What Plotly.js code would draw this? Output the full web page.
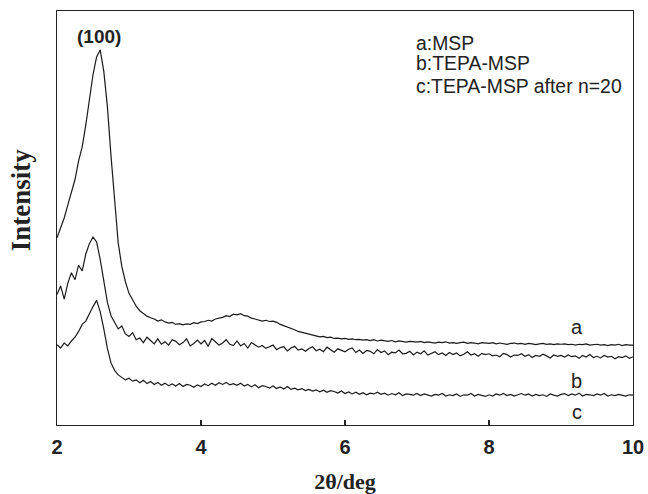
<!DOCTYPE html>
<html>
<head>
<meta charset="utf-8">
<script src="https://cdn.plot.ly/plotly-3.0.1.min.js"></script>
<style>body{margin:0;padding:0;background:#fff;}#chart{width:648px;height:494px;}</style>
</head>
<body>
<div id="chart"></div>
<script>
const twoTheta = [
2.00,2.05,2.10,2.15,2.20,2.25,2.30,2.35,2.40,2.45,
2.50,2.55,2.60,2.65,2.70,2.75,2.80,2.85,2.90,2.95,
3.00,3.05,3.10,3.15,3.20,3.25,3.30,3.35,3.40,3.45,
3.50,3.55,3.60,3.65,3.70,3.75,3.80,3.85,3.90,3.95,
4.00,4.05,4.10,4.15,4.20,4.25,4.30,4.35,4.40,4.45,
4.50,4.55,4.60,4.65,4.70,4.75,4.80,4.85,4.90,4.95,
5.00,5.05,5.10,5.15,5.20,5.25,5.30,5.35,5.40,5.45,
5.50,5.55,5.60,5.65,5.70,5.75,5.80,5.85,5.90,5.95,
6.00,6.05,6.10,6.15,6.20,6.25,6.30,6.35,6.40,6.45,
6.50,6.55,6.60,6.65,6.70,6.75,6.80,6.85,6.90,6.95,
7.00,7.05,7.10,7.15,7.20,7.25,7.30,7.35,7.40,7.45,
7.50,7.55,7.60,7.65,7.70,7.75,7.80,7.85,7.90,7.95,
8.00,8.05,8.10,8.15,8.20,8.25,8.30,8.35,8.40,8.45,
8.50,8.55,8.60,8.65,8.70,8.75,8.80,8.85,8.90,8.95,
9.00,9.05,9.10,9.15,9.20,9.25,9.30,9.35,9.40,9.45,
9.50,9.55,9.60,9.65,9.70,9.75,9.80,9.85,9.90,9.95,
10.00];

const intensityA = [
45.2,47.6,50.0,53.1,56.0,59.3,63.8,67.2,72.5,79.2,
84.6,88.9,90.6,85.4,76.9,65.0,53.6,44.0,38.3,34.6,
31.8,30.1,28.7,27.6,26.9,26.3,25.9,25.6,25.1,25.4,
24.9,24.6,24.8,24.3,24.5,24.2,24.4,24.3,24.7,24.5,
24.9,25.0,25.3,25.1,25.6,25.8,26.0,26.4,26.2,26.8,
26.6,26.9,26.4,26.3,25.8,25.6,25.4,25.1,25.3,25.0,
25.1,24.8,24.3,24.0,23.7,23.3,23.0,22.6,22.4,22.1,
22.0,21.7,21.6,21.3,21.4,21.1,21.2,20.9,21.0,20.8,
20.9,20.7,20.8,20.6,20.7,20.5,20.6,20.4,20.6,20.3,
20.5,20.3,20.2,20.4,20.1,20.3,20.2,20.0,20.2,20.1,
20.0,20.2,19.9,20.1,20.0,19.8,20.0,19.9,20.1,19.8,
19.9,19.7,19.9,20.0,19.7,19.9,19.8,19.6,19.9,19.8,
19.7,19.9,19.6,19.8,19.7,19.5,19.7,19.8,19.6,19.7,
19.5,19.7,19.6,19.4,19.6,19.7,19.5,19.6,19.4,19.6,
19.5,19.6,19.4,19.5,19.3,19.5,19.4,19.6,19.3,19.4,
19.5,19.3,19.4,19.2,19.4,19.3,19.5,19.2,19.4,19.3,
19.3];

const intensityB = [
31.5,33.6,30.4,34.2,36.8,35.1,38.6,37.2,41.3,43.8,
45.4,44.2,40.0,34.5,29.6,26.4,24.8,23.2,23.9,22.0,
21.4,22.3,20.6,21.0,19.9,21.2,20.4,19.6,20.8,19.5,
20.1,19.3,20.6,20.2,19.4,19.9,20.8,19.1,19.7,20.5,
19.6,20.4,19.0,20.9,20.1,19.3,19.8,20.6,19.5,19.2,
20.3,19.1,19.7,18.6,19.9,19.4,18.8,19.2,18.5,18.9,
19.3,18.2,18.7,18.9,17.9,18.6,19.0,18.1,18.4,17.8,
18.5,18.9,17.9,18.3,17.7,18.8,18.1,17.6,18.4,18.0,
17.7,18.3,18.6,17.5,18.1,17.3,18.0,17.8,17.2,18.2,
17.5,17.9,17.0,17.6,17.4,18.1,17.2,17.3,17.8,16.9,
17.6,17.2,17.9,16.9,17.3,17.7,17.0,17.4,16.8,17.5,
17.0,17.4,16.7,17.1,17.7,16.9,17.2,16.6,17.3,17.0,
17.2,16.7,16.9,16.5,17.3,17.0,16.4,16.9,16.8,17.2,
16.6,17.0,16.3,16.8,16.6,17.1,16.7,16.2,16.9,16.6,
16.8,16.4,16.9,16.5,16.7,16.1,16.8,16.4,17.0,16.3,
16.6,16.2,16.8,16.4,16.6,16.0,16.5,16.3,16.7,16.1,
16.5];

const intensityC = [
19.4,18.6,19.8,19.1,20.3,21.2,22.6,24.3,25.1,27.0,
28.6,30.1,27.4,23.2,18.5,15.0,13.2,12.1,11.6,10.9,
11.3,10.6,10.9,10.2,10.8,10.0,10.5,9.8,10.3,9.6,
10.1,9.5,9.9,9.4,10.0,9.3,9.8,9.6,9.1,9.7,
9.3,9.9,9.5,10.1,9.6,10.2,9.8,10.3,9.7,10.0,
9.6,10.1,9.4,9.8,9.2,9.7,9.0,9.5,9.3,8.9,
9.4,8.8,9.2,8.7,9.3,8.6,8.9,8.5,8.8,8.3,
8.6,8.2,8.5,8.0,8.4,7.9,8.3,8.1,7.7,8.2,
7.6,8.0,7.5,7.9,7.4,7.8,7.3,7.7,7.5,7.9,
7.4,7.7,7.2,7.6,7.3,7.8,7.1,7.5,7.4,7.2,
7.6,7.1,7.5,7.3,7.0,7.4,7.2,7.6,7.0,7.3,
7.1,7.5,6.9,7.3,7.2,7.6,7.0,7.4,7.1,6.9,
7.3,7.0,7.5,7.2,7.6,7.1,7.4,7.0,7.3,7.6,
7.2,7.5,7.0,7.4,7.1,7.3,6.9,7.5,7.2,7.0,
7.4,7.6,7.1,7.5,7.2,7.7,7.0,7.4,7.3,7.1,
7.5,7.2,7.6,7.0,7.3,7.1,7.4,7.2,7.0,7.3,
7.2];

const seriesNames = ['a', 'b', 'c'];
const legendLines = ['a:MSP', 'b:TEPA-MSP', 'c:TEPA-MSP after n=20'];
const xTicks = [2, 4, 6, 8, 10];
const xTickLabels = ['2', '4', '6', '8', '10'];
const peakLabel = '(100)';
const xTitle = '2θ/deg';
const yTitle = 'Intensity';

const lineStyle = {color: '#1a1a1a', width: 1.2};
const traces = [intensityA, intensityB, intensityC].map((ys, i) => ({
  x: twoTheta, y: ys, type: 'scatter', mode: 'lines',
  name: seriesNames[i], line: lineStyle, showlegend: false, hoverinfo: 'skip'
}));

const sans = 'Liberation Sans, Arial, sans-serif';
const serif = 'Liberation Serif, Times New Roman, serif';
const txt = (x, y, text, size, extra) => Object.assign({
  x: x, y: y, xref: 'x', yref: 'y', text: text, showarrow: false,
  font: {family: sans, size: size, color: '#222'}
}, extra || {});

const annotations = [
  txt(2.583, 93.8, '<b>' + peakLabel + '</b>', 19),
  txt(6.958, 92.3, legendLines[0], 19.4, {xanchor: 'left'}),
  txt(6.958, 87.4, legendLines[1], 19.4, {xanchor: 'left'}),
  txt(6.958, 81.9, legendLines[2], 19.4, {xanchor: 'left'}),
  txt(9.22, 23.7, seriesNames[0], 20),
  txt(9.22, 10.6, seriesNames[1], 20),
  txt(9.22, 3.1, seriesNames[2], 20),
  {x: -0.0625, y: 54.3, xref: 'paper', yref: 'y', text: '<b>' + yTitle + '</b>', textangle: -90,
   showarrow: false, xanchor: 'center', yanchor: 'middle',
   font: {family: serif, size: 27, color: '#222'}}
];

const layout = {
  width: 648, height: 494,
  margin: {l: 57, r: 15, t: 11, b: 69},
  paper_bgcolor: '#fff', plot_bgcolor: '#fff',
  showlegend: false,
  xaxis: {
    range: [2, 10], tickvals: xTicks, ticktext: xTickLabels,
    ticks: 'inside', ticklen: 5, tickwidth: 1.2, tickcolor: '#222',
    showline: true, mirror: true, linecolor: '#222', linewidth: 1.3,
    showgrid: false, zeroline: false, ticklabelstandoff: 4,
    tickfont: {family: sans, size: 20, color: '#222', weight: 'bold'},
    title: {text: '<b>' + xTitle + '</b>', font: {family: serif, size: 22, color: '#222'}, standoff: 20}
  },
  yaxis: {
    range: [0, 100], showticklabels: false, ticks: '',
    showline: true, mirror: true, linecolor: '#222', linewidth: 1.3,
    showgrid: false, zeroline: false
  },
  annotations: annotations
};

Plotly.newPlot('chart', traces, layout, {displayModeBar: false, staticPlot: true});
</script>
</body>
</html>
